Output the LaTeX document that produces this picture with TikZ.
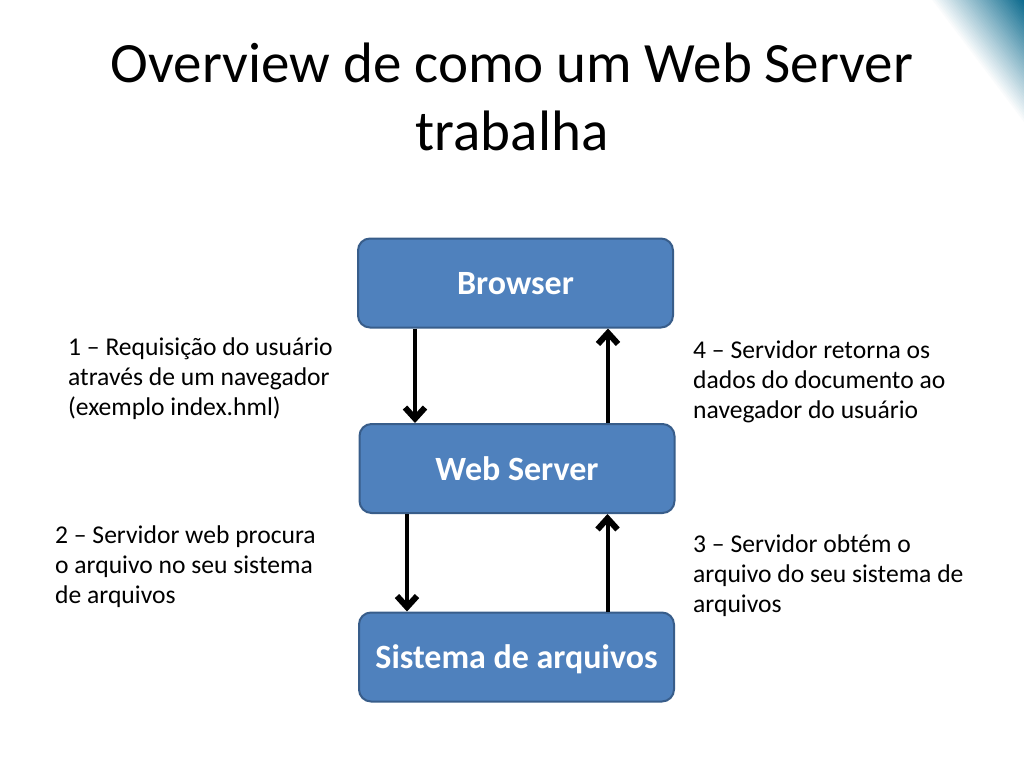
\documentclass[tikz,border=0pt]{standalone}
\usepackage{fontspec}
\setmainfont{Carlito}
\usetikzlibrary{arrows.meta}
\definecolor{caixaazul}{RGB}{79,129,189}
\definecolor{bordaazul}{RGB}{56,93,138}
\definecolor{cantoteal}{RGB}{8,104,140}
\tikzset{
	caixa/.style={draw=bordaazul,line width=2pt,fill=caixaazul,rounded corners=12pt,
		minimum width=315pt,minimum height=89pt,text=white,text depth=0pt,
		font=\fontsize{34}{40}\selectfont\bfseries},
	legenda/.style={anchor=base west,align=left,inner sep=0pt,
		font=\fontsize{25.6}{30}\selectfont},
	pontaseta/.tip={Straight Barb[length=11pt,width=20pt,line width=6pt]},
	seta/.style={line width=4pt,-pontaseta}
}

\begin{document}
\begin{tikzpicture}[x=1pt,y=-1pt]
	\useasboundingbox (0,0) rectangle (1024,768);
	
	% canto decorativo
	\foreach \t in {0,...,39}
		\fill[cantoteal!\fpeval{\t*2.5}!white]
			({930+94*\t/40},0)--(1024,0)--(1024,{125*(1-\t/40)})--cycle;
	
	\node[anchor=base,inner sep=0pt,font=\fontsize{57}{68}\selectfont] (titulo1) at (512,82)
		{Overview de como um Web Server};
	\node[anchor=base,inner sep=0pt,font=\fontsize{57}{68}\selectfont] (titulo2) at (512,150)
		{trabalha};
	
	\node[caixa] (browser) at (515.5,283) {Browser};
	\node[caixa] (web) at (517,468.5) {Web Server};
	\node[caixa] (sistema) at (516.5,657) {Sistema de arquivos};
	
	\draw[seta] ([xshift=-100.5]browser.south) -- ([xshift=-100.5]browser.south |- web.north);
	\draw[seta] ([xshift=91]web.north) -- ([xshift=91]web.north |- browser.south);
	\draw[seta] ([xshift=-110]web.south) -- ([xshift=-110]web.south |- sistema.north);
	\draw[seta] ([xshift=91]sistema.north) -- ([xshift=91]sistema.north |- web.south);
	
	% base = ultima linha
	\node[legenda] (passo1) at (68,415) {1 -- Requisição do usuário\\através de um navegador\\(exemplo index.hml)};
	\node[legenda] (passo2) at (55,603) {2 -- Servidor web procura\\o arquivo no seu sistema\\de arquivos};
	\node[legenda] (passo3) at (693,612) {3 -- Servidor obtém o\\arquivo do seu sistema de\\arquivos};
	\node[legenda] (passo4) at (693,418) {4 -- Servidor retorna os\\dados do documento ao\\navegador do usuário};
	
\end{tikzpicture}
\end{document}
